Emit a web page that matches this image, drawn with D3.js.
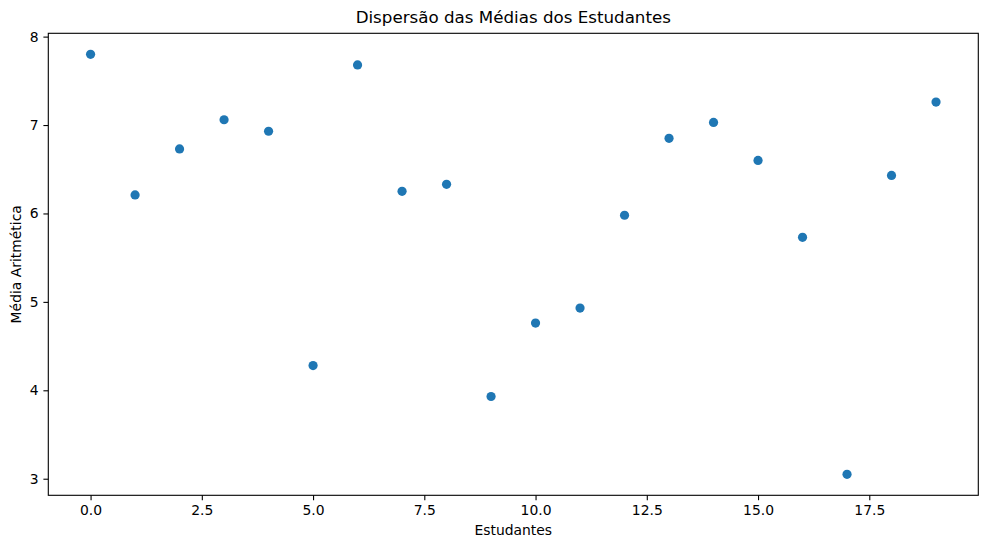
<!DOCTYPE html>
<html>
<head>
<meta charset="utf-8">
<script src="https://cdn.jsdelivr.net/npm/d3@7"></script>
<style>
  body { margin: 0; background: #fff; }
  text { font-family: "DejaVu Sans", sans-serif; fill: #000; }
  .tick text { font-size: 13.9px; }
  .domain { display: none; }
</style>
</head>
<body>
<script>
var estudantes = [0, 1, 2, 3, 4, 5, 6, 7, 8, 9, 10, 11, 12, 13, 14, 15, 16, 17, 18, 19]
var medias = [7.80, 6.21, 6.73, 7.06, 6.93, 4.28, 7.68, 6.25, 6.33, 3.93,
              4.76, 4.93, 5.98, 6.85, 7.03, 6.60, 5.73, 3.05, 6.43, 7.26]
var xTicks = [0, 2.5, 5, 7.5, 10, 12.5, 15, 17.5]
var yTicks = [3, 4, 5, 6, 7, 8]

var W = 988, H = 548
var margin = {top: 33.3, right: 9.7, bottom: 52.7, left: 48.3},
    width = W - margin.left - margin.right,
    height = H - margin.top - margin.bottom

var svg = d3.select("body").append("svg")
    .attr("width", W)
    .attr("height", H)

var g = svg.append("g")
    .attr("transform", "translate(" + margin.left + "," + margin.top + ")")

// matplotlib style 5% margins around the data
var xmin = d3.min(estudantes), xmax = d3.max(estudantes)
var xpad = (xmax - xmin) * 0.05
var ymin = d3.min(medias), ymax = d3.max(medias)
var ypad = (ymax - ymin) * 0.05

var x = d3.scaleLinear().domain([xmin - xpad, xmax + xpad]).range([0, width])
var y = d3.scaleLinear().domain([ymin - ypad, ymax + ypad]).range([height, 0])

// axes
g.append("g")
    .attr("transform", "translate(0," + height + ")")
    .call(d3.axisBottom(x).tickValues(xTicks).tickFormat(d3.format(".1f"))
      .tickSize(4.9).tickPadding(4.9))
    .call(function(a) { a.selectAll(".tick line").attr("stroke", "#000").attr("stroke-width", 1.1) })

g.append("g")
    .call(d3.axisLeft(y).tickValues(yTicks).tickFormat(d3.format("d"))
      .tickSize(4.9).tickPadding(4.9))
    .call(function(a) { a.selectAll(".tick line").attr("stroke", "#000").attr("stroke-width", 1.1) })

// points
g.selectAll(".dot")
  .data(medias)
  .enter().append("circle")
    .attr("class", "dot")
    .attr("cx", function(d, i) { return x(estudantes[i]) })
    .attr("cy", function(d) { return y(d) })
    .attr("r", 4.6)
    .style("fill", "#1f77b4")

// frame
g.append("rect")
    .attr("width", width)
    .attr("height", height)
    .attr("fill", "none")
    .attr("stroke", "#000")
    .attr("stroke-width", 1.1)

// texts
svg.append("text")
    .attr("x", margin.left + width / 2)
    .attr("y", 23)
    .attr("text-anchor", "middle")
    .style("font-size", "16.7px")
    .text("Dispersão das Médias dos Estudantes")

svg.append("text")
    .attr("x", margin.left + width / 2)
    .attr("y", 535)
    .attr("text-anchor", "middle")
    .style("font-size", "13.9px")
    .text("Estudantes")

svg.append("text")
    .attr("transform", "translate(21," + (margin.top + height / 2) + ") rotate(-90)")
    .attr("text-anchor", "middle")
    .style("font-size", "13.9px")
    .text("Média Aritmética")
</script>
</body>
</html>
